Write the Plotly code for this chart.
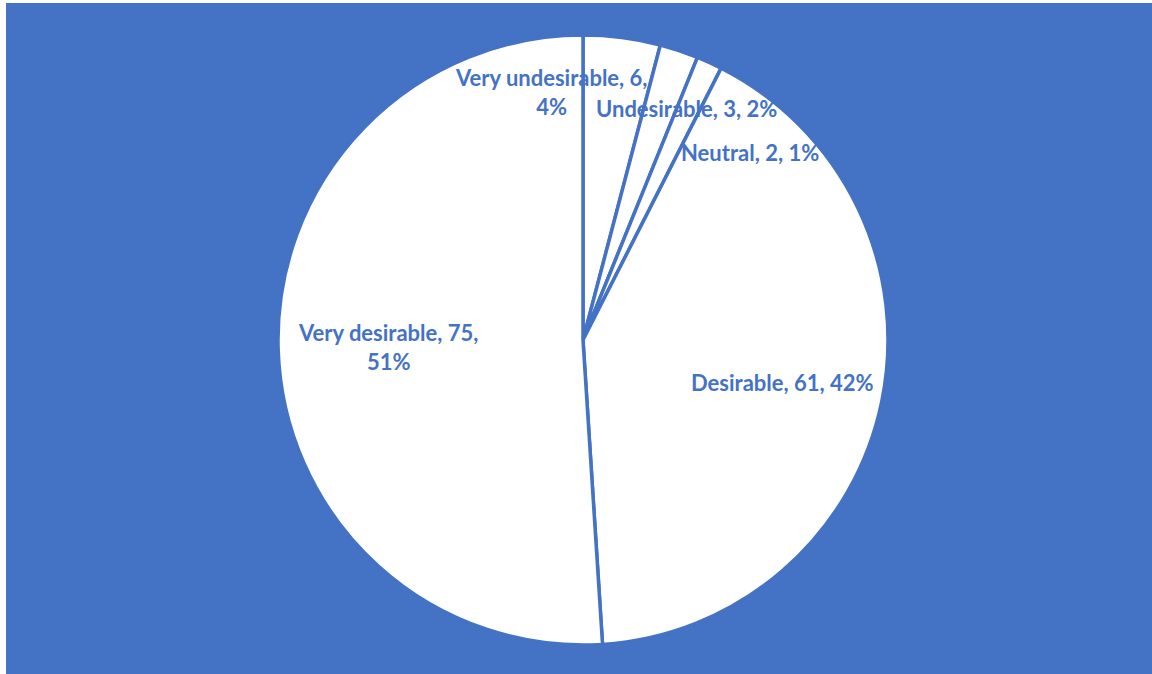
import plotly.graph_objects as go

# Survey responses
categories = ["Very undesirable", "Undesirable", "Neutral", "Desirable", "Very desirable"]
counts = [6, 3, 2, 61, 75]
# Percentages as printed on the slice labels
percents = [4, 2, 1, 42, 51]

BLUE = "#4472C4"
W, H = 1152, 674

# Pie placement (pixels): centre and radius
cx, cy, r = 583, 340, 305

# Label anchor points (pixels) for each slice label
label_px = [(551, 92), (686, 109), (750, 152), (782, 382), (388, 347)]

fig = go.Figure(
    go.Pie(
        labels=categories,
        values=counts,
        sort=False,
        direction="clockwise",
        rotation=0,
        marker=dict(colors=["white"] * len(counts), line=dict(color=BLUE, width=3.5)),
        textinfo="none",
        hoverinfo="label+value+percent",
        showlegend=False,
        domain=dict(x=[(cx - r) / W, (cx + r) / W], y=[1 - (cy + r) / H, 1 - (cy - r) / H]),
    )
)

annotations = []
for i, (name, v, pct) in enumerate(zip(categories, counts, percents)):
    text = f"{name}, {v}, {pct}%"
    if name in ("Very undesirable", "Very desirable"):
        text = f"{name}, {v},<br>{pct}%"
    px, py = label_px[i]
    annotations.append(
        dict(
            x=px / W, y=1 - py / H, xref="paper", yref="paper",
            text=text, showarrow=False, align="center",
            xanchor="center", yanchor="middle",
            font=dict(family="Lato", size=22, color=BLUE, weight="bold"),
        )
    )

fig.update_layout(
    width=W, height=H,
    margin=dict(l=0, r=0, t=0, b=0),
    paper_bgcolor=BLUE,
    plot_bgcolor=BLUE,
    annotations=annotations,
    shapes=[
        dict(type="rect", xref="paper", yref="paper", x0=0, x1=6 / W, y0=0, y1=1,
             fillcolor="white", line=dict(width=0), layer="above"),
        dict(type="rect", xref="paper", yref="paper", x0=0, x1=1, y0=1 - 3 / H, y1=1,
             fillcolor="white", line=dict(width=0), layer="above"),
    ],
)

fig.write_html("out.html")
